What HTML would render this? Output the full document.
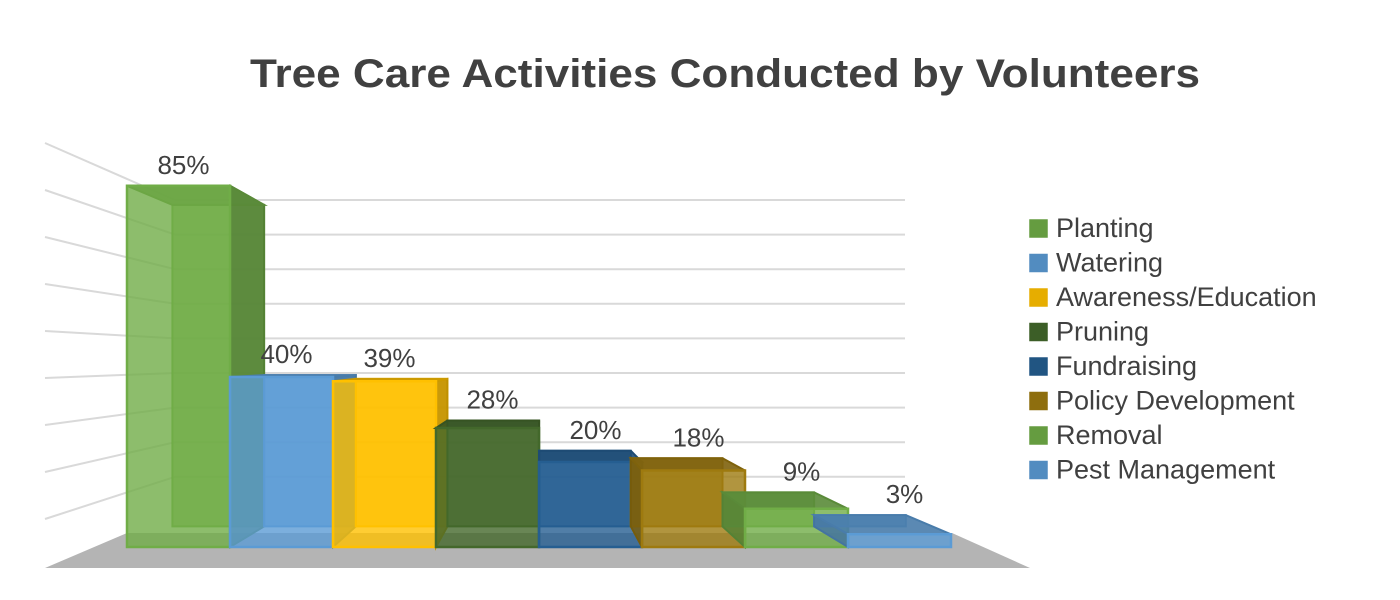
<!DOCTYPE html>
<html><head><meta charset="utf-8"><style>
html,body{margin:0;padding:0;background:#fff;}
svg{display:block;font-family:"Liberation Sans",sans-serif;}
</style></head><body>
<svg id="chart" width="1400" height="600" viewBox="0 0 1400 600" xmlns="http://www.w3.org/2000/svg">
<text x="725" y="87" text-anchor="middle" font-size="40" font-weight="bold" fill="#404040" textLength="950" lengthAdjust="spacingAndGlyphs">Tree Care Activities Conducted by Volunteers</text>
<g id="grid"></g>
<polygon points="45,568 1030,568 952,533 127,533" fill="#b4b4b4"/>
<g id="bars"></g>
<g id="labels"></g>
<g id="legend"></g>
</svg>
<script>
const categories = ["Planting","Watering","Awareness/Education","Pruning","Fundraising","Policy Development","Removal","Pest Management"];
const values = [85,40,39,28,20,18,9,3];
const valueLabels = ["85%","40%","39%","28%","20%","18%","9%","3%"];
const colors = ["#70AD47","#5B9BD5","#FFC000","#43682B","#255E91","#9E7A0F","#70AD47","#5B9BD5"];

const NS="http://www.w3.org/2000/svg";
const X0=127, BW=103, BASE=547, K=4.25, VX=540, VY=360, S=0.11;
function yOf(v){return BASE-K*v;}
function xOf(i){return X0+i*BW;}
function back(p){return [p[0]+S*(VX-p[0]), p[1]+S*(VY-p[1])];}
function mk(tag,attrs,parent){const e=document.createElementNS(NS,tag);for(const k in attrs)e.setAttribute(k,attrs[k]);parent.appendChild(e);return e;}
function pts(a){return a.map(p=>p[0].toFixed(1)+","+p[1].toFixed(1)).join(" ");}

const grid=document.getElementById("grid");
for(let i=0;i<9;i++){
  const yr=200+34.6*i;
  const l1=mk("line",{x1:175,y1:yr,x2:905,y2:yr,stroke:"#d9d9d9","stroke-width":2},grid);
  
  
  const yl=143+47*i;
  const l2=mk("line",{x1:45,y1:yl,x2:175,y2:yr,stroke:"#d9d9d9","stroke-width":2},grid);
  
  
}

const bars=document.getElementById("bars");
const labels=document.getElementById("labels");
values.forEach((v,i)=>{
  const x0=xOf(i),x1=x0+BW,yt=yOf(v);
  const F=[[x0,yt],[x1,yt],[x1,BASE],[x0,BASE]];
  const B=F.map(back);
  const g=mk("g",{},bars);
  
  
  const c=colors[i];
  mk("polygon",{points:pts(B),fill:c,"fill-opacity":0.75,stroke:c,"stroke-width":2},g);
  // visible side
  if(x1<VX) mk("polygon",{points:pts([F[1],B[1],B[2],F[2]]),fill:c,"fill-opacity":0.85,stroke:c,"stroke-width":2,style:"filter:brightness(0.75)"},g);
  else mk("polygon",{points:pts([F[0],B[0],B[3],F[3]]),fill:c,"fill-opacity":0.85,stroke:c,"stroke-width":2,style:"filter:brightness(0.75)"},g);
  mk("polygon",{points:pts([F[0],F[1],B[1],B[0]]),fill:c,"fill-opacity":0.9,stroke:c,"stroke-width":2,style:"filter:brightness(0.8)"},g);
  mk("polygon",{points:pts(F),fill:c,"fill-opacity":0.8,stroke:c,"stroke-width":2.5},g);
  const t=mk("text",{x:x0+BW/2+5,y:Math.min(yt,B[0][1])-12,"text-anchor":"middle","font-size":26,fill:"#404040"},labels);
  t.textContent=valueLabels[i];
  
  
});

const legend=document.getElementById("legend");
categories.forEach((c,i)=>{
  const y=228+34.5*i;
  const g=mk("g",{},legend);
  
  
  mk("rect",{x:1030,y:y-8,width:17,height:17,fill:colors[i],stroke:colors[i],"stroke-width":1.5,style:"filter:brightness(0.9)"},g);
  const t=mk("text",{x:1056,y:y+9,"font-size":27,fill:"#404040"},g);
  t.textContent=c;
});
</script>
</body></html>
